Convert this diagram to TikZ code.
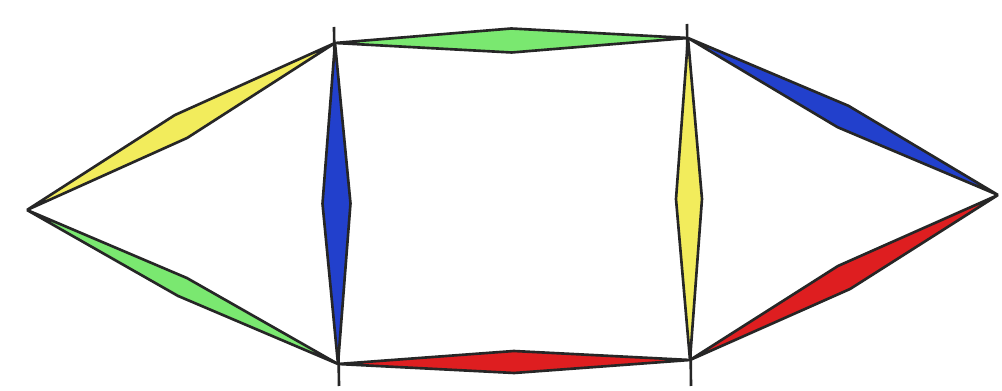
\documentclass[tikz,border=0pt]{standalone}
\usepackage{tikz}
\usetikzlibrary{calc}

\definecolor{lensyellow}{RGB}{242,236,92}
\definecolor{lensgreen}{RGB}{122,232,112}
\definecolor{lensblue}{RGB}{34,64,204}
\definecolor{lensred}{RGB}{222,30,32}

\tikzset{
  lens/.style={draw=black!85, line width=1.5pt, line join=miter},
  stub/.style={draw=black!85, line width=1.5pt}
}

% edge drawn as a thin coloured diamond from node to node
\newcommand{\lensedge}[4]{%
  \filldraw[lens, fill=#3] (#1) -- ($(#1)!0.5!(#2)!#4!90:(#2)$)
    -- (#2) -- ($(#1)!0.5!(#2)!#4!-90:(#2)$) -- cycle;}

\begin{document}
\begin{tikzpicture}[x=0.02cm, y=-0.02cm]
        \useasboundingbox (0,0) rectangle (1002,391);
        \fill[white] (0,0) rectangle (1002,391);

        % vertices
        \coordinate (left)  at (27,210);
        \coordinate (tl)    at (335,43);
        \coordinate (bl)    at (338,364);
        \coordinate (tr)    at (688,38);
        \coordinate (br)    at (690,360);
        \coordinate (right) at (998,195);
        \coordinate (tltop) at (334,27);
        \coordinate (blbot) at (339,386);
        \coordinate (trtop) at (687,24);
        \coordinate (brbot) at (691,386);

        % vertical stubs through the inner vertices
        \draw[stub] (tltop) -- (blbot);
        \draw[stub] (trtop) -- (brbot);

        \lensedge{left}{tl}{lensyellow}{0.26cm}
        \lensedge{left}{bl}{lensgreen}{0.2cm}
        \lensedge{tl}{bl}{lensblue}{0.28cm}
        \lensedge{tl}{tr}{lensgreen}{0.24cm}
        \lensedge{bl}{br}{lensred}{0.22cm}
        \lensedge{tr}{br}{lensyellow}{0.26cm}
        \lensedge{tr}{right}{lensblue}{0.24cm}
        \lensedge{br}{right}{lensred}{0.26cm}
      \end{tikzpicture}
\end{document}
